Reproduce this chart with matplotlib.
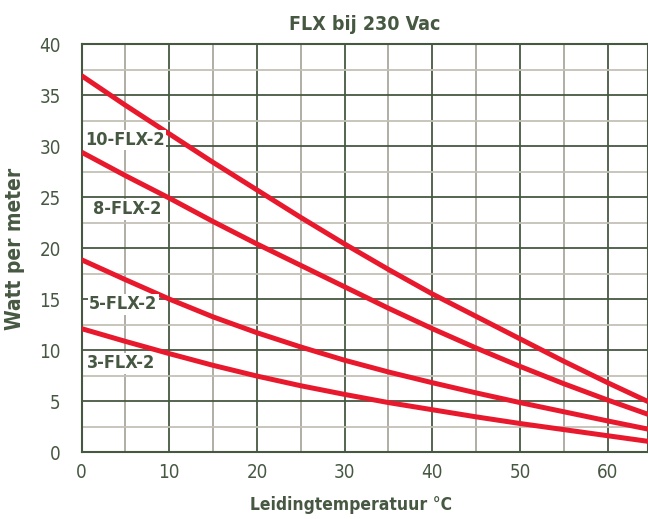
import matplotlib.pyplot as plt
from matplotlib.ticker import MultipleLocator

# temperatuur (x) en vermogen per kabeltype (y)
temp = [0, 5, 10, 15, 20, 25, 30, 35, 40, 45, 50, 55, 60, 64.6]
flx10 = [36.9, 34.0, 31.2, 28.4, 25.7, 23.0, 20.4, 17.9, 15.5, 13.3, 11.1, 8.9, 6.8, 4.95]
flx8 = [29.4, 27.1, 24.9, 22.6, 20.4, 18.3, 16.2, 14.1, 12.1, 10.2, 8.4, 6.7, 5.1, 3.7]
flx5 = [18.85, 16.9, 15.0, 13.25, 11.7, 10.3, 9.0, 7.85, 6.8, 5.8, 4.85, 3.95, 3.05, 2.25]
flx3 = [12.1, 10.85, 9.65, 8.5, 7.45, 6.5, 5.65, 4.85, 4.15, 3.45, 2.8, 2.2, 1.6, 1.05]

series = [flx10, flx8, flx5, flx3]
labels = ["10-FLX-2", "8-FLX-2", "5-FLX-2", "3-FLX-2"]
label_pos = [(0.35, 30.6), (1.3, 23.8), (0.85, 14.5), (0.6, 8.7)]

groen = "#465842"
rood = "#e8192c"
plt.rcParams['font.family'] = ['Liberation Sans Narrow', 'DejaVu Sans']
plt.rcParams['font.stretch'] = 'condensed'

fig = plt.figure(figsize=(6.48, 5.19), dpi=100)
ax = fig.add_axes([0.126, 0.129, 0.874, 0.786])

ax.set_xlim(0, 64.6)
ax.set_ylim(0, 40)
ax.xaxis.set_major_locator(MultipleLocator(10))
ax.xaxis.set_minor_locator(MultipleLocator(5))
ax.yaxis.set_major_locator(MultipleLocator(5))
ax.yaxis.set_minor_locator(MultipleLocator(2.5))

ax.grid(which='minor', axis='x', color='#aaa79d', linewidth=1.3)
ax.grid(which='minor', axis='y', color='#c4c0b7', linewidth=1.3)
ax.grid(which='major', color=groen, linewidth=1.3)
ax.set_axisbelow(True)

for s in ax.spines.values():
    s.set_color(groen)
    s.set_linewidth(1.5)

ax.tick_params(which='both', length=0, colors=groen, labelsize=13.5)
ax.tick_params(axis='x', pad=8)
ax.tick_params(axis='y', pad=15)

for y in series:
    ax.plot(temp, y, color=rood, linewidth=3.6, solid_capstyle='butt', zorder=3)

for txt, (x, y) in zip(labels, label_pos):
    ax.text(x, y, txt, fontsize=13, fontweight='bold', color=groen, ha='left', va='center',
            bbox=dict(facecolor='white', edgecolor='none', pad=1.0), zorder=4)

ax.set_title("FLX bij 230 Vac", fontsize=14, fontweight='bold', color=groen, pad=10)
ax.set_xlabel("Leidingtemperatuur °C", fontsize=12.5, fontweight='bold', color=groen)
ax.set_ylabel("Watt per meter", fontsize=15, fontweight='bold', color=groen)
ax.xaxis.set_label_coords(0.476, -0.108)
ax.yaxis.set_label_coords(-0.100, 0.4975)

fig.savefig("out.png", dpi=100)
